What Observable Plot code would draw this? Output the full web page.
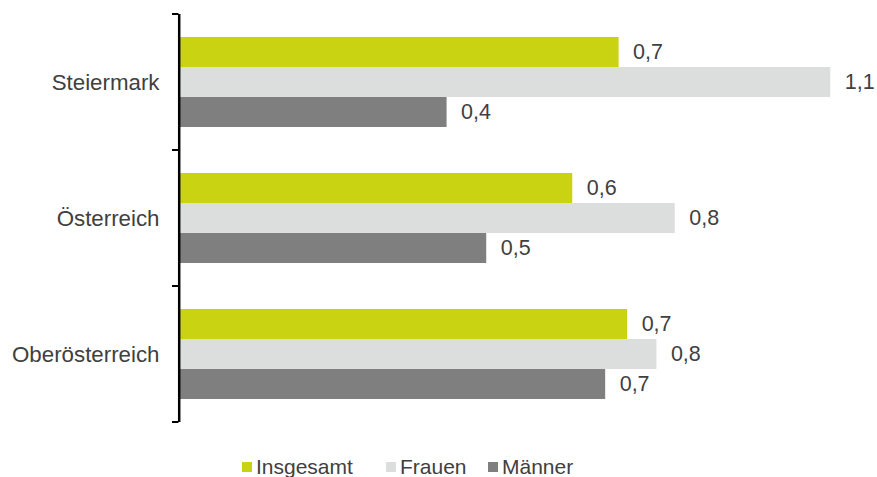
<!DOCTYPE html>
<html><head><meta charset="utf-8">
<script src="https://cdn.jsdelivr.net/npm/d3@7"></script>
<script src="https://cdn.jsdelivr.net/npm/@observablehq/plot@0.6"></script>
<style>
body{margin:0;background:#fff;font-family:"Liberation Sans",Arial,sans-serif;}
#chart svg{display:block;}
#legend{display:flex;align-items:center;height:20px;padding-top:17px;padding-left:242px;font-size:21px;color:#404040;}
.item{display:flex;align-items:center;}
.sw{width:10px;height:10px;margin-right:4px;}
</style></head><body>
<div id="chart"></div><div id="legend"></div>
<script>
const regions = ["Steiermark", "Österreich", "Oberösterreich"];
const series = ["Insgesamt", "Frauen", "Männer"];
const colors = ["#c9d311", "#dcdddd", "#7f7f7f"];
const insgesamt = [0.719, 0.643, 0.733];
const frauen = [1.066, 0.811, 0.781];
const maenner = [0.437, 0.502, 0.697];

const valuesBySeries = [insgesamt, frauen, maenner];
const data = [];
regions.forEach((r, i) => series.forEach((s, j) => data.push({region: r, series: s, value: valuesBySeries[j][i]})));
const fmt = v => d3.format(".1f")(v).replace(".", ",");

const plot = Plot.plot({
  width: 877, height: 440,
  marginLeft: 180, marginRight: 26, marginTop: 13, marginBottom: 17,
  style: {fontFamily: '"Liberation Sans", Arial, sans-serif', fontSize: "21.5px", color: "#404040", background: "#fff"},
  x: {domain: [0, 1.1], axis: null},
  y: {domain: series, axis: null, paddingInner: 0, paddingOuter: 0.75},
  fy: {domain: regions, padding: 0, axis: null, label: null},
  color: {domain: series, range: colors},
  marks: [
    Plot.axisFy({anchor: "left", label: null, tickSize: 0, tickPadding: 21, fontSize: 22.3}),
    Plot.barX(data, {fy: "region", y: "series", x: "value", fill: "series", insetTop: 0, insetBottom: 0}),
    Plot.text(data, {fy: "region", y: "series", x: "value", text: d => fmt(d.value), textAnchor: "start", dx: 14, fill: "#404040"}),
    Plot.ruleX([0], {stroke: "#000", strokeWidth: 2.5, dx: -1.3})
  ]
});

const fy = plot.scale("fy");
const x0 = plot.scale("x").apply(0);
const bounds = [];
regions.forEach(r => { const y = fy.apply(r); bounds.push(y, y + fy.bandwidth); });
const uniq = Array.from(new Set(bounds.map(b => Math.round(b * 10) / 10)));
d3.select(plot).append("g").selectAll("line").data(uniq).join("line")
  .attr("x1", x0 - 8).attr("x2", x0 - 1.5)
  .attr("y1", d => d).attr("y2", d => d)
  .attr("stroke", "#000").attr("stroke-width", 2);

document.getElementById("chart").appendChild(plot);

const itemWidths = ["144px", "102px", "auto"];
const legend = d3.select("#legend");
series.forEach((s, i) => {
  const it = legend.append("div").attr("class", "item").style("width", itemWidths[i]);
  it.append("div").attr("class", "sw").style("background", colors[i]);
  it.append("span").text(s);
});
</script>
</body></html>
